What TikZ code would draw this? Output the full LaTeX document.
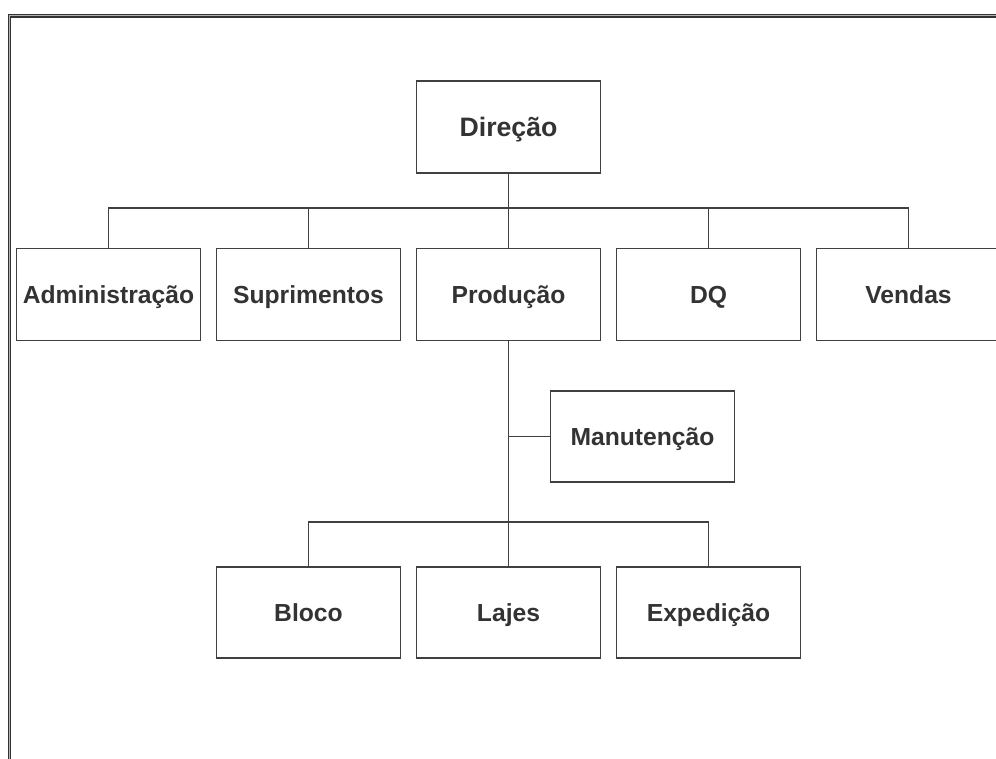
\documentclass[tikz,border=0pt]{standalone}
\usepackage{fontspec}
\setmainfont{Liberation Sans}
\begin{document}
\begin{tikzpicture}[x=0.75pt,y=-0.75pt,
  line/.style={draw=black!75,line width=0.8pt},
  unit/.style={line,rectangle,minimum width=137.5pt,minimum height=69pt,
    inner sep=0pt,text height=13.25pt,text depth=0pt,text=black!80,
    font=\fontsize{18.5}{22}\selectfont\bfseries},
  topunit/.style={unit,text height=14.3pt,font=\fontsize{20}{24}\selectfont\bfseries},
  frameouter/.style={draw=black!80,line width=1pt},
  framemid/.style={draw=black!30,line width=1.1pt}]
\useasboundingbox (0,0) rectangle (996,758);
\fill[white] (0,0) rectangle (996,758);
% double frame along the top and left sides
\draw[framemid] (9.5,760) -- (9.5,15.7) -- (998,15.7);
\draw[frameouter] (8.3,760) -- (8.3,14.5) -- (998,14.5);
\draw[frameouter] (10.7,760) -- (10.7,16.9) -- (998,16.9);
% units
\node[topunit] (dir) at (508.5,127) {Direção};
\node[unit] (adm) at (108.5,294.5) {Administração};
\node[unit] (sup) at (308.5,294.5) {Suprimentos};
\node[unit] (prod) at (508.5,294.5) {Produção};
\node[unit] (dq) at (708.5,294.5) {DQ};
\node[unit] (ven) at (908.5,294.5) {Vendas};
\node[unit,minimum width=138pt,minimum height=68.25pt] (man) at (642.5,436.5) {Manutenção};
\node[unit,minimum height=68.25pt] (blo) at (308.5,612.5) {Bloco};
\node[unit,minimum height=68.25pt] (laj) at (508.5,612.5) {Lajes};
\node[unit,minimum height=68.25pt] (exp) at (708.5,612.5) {Expedição};
% connectors
\coordinate (busa) at (508.5,208);
\coordinate (busb) at (508.5,522);
\draw[line] (dir.south) -- (busa);
\foreach \n in {adm,sup,prod,dq,ven} \draw[line] (\n.north) |- (busa);
\draw[line] (prod.south) -- (busb);
\draw[line] (man.west) -- (man.west -| prod.south);
\foreach \n in {blo,laj,exp} \draw[line] (\n.north) |- (busb);
\end{tikzpicture}
\end{document}
